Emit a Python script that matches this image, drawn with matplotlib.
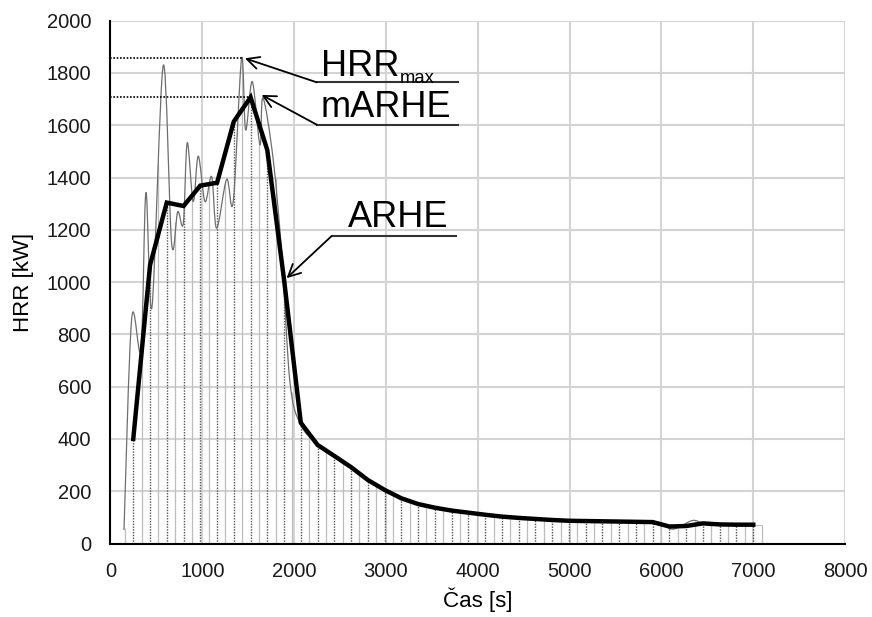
import numpy as np
import matplotlib
matplotlib.use("Agg")
import matplotlib.pyplot as plt
from matplotlib.path import Path
from matplotlib.patches import PathPatch

plt.rcParams['font.family'] = ['Liberation Sans', 'DejaVu Sans']

# HRR curve (thin, smoothed), read at its turning points
hrr_t = [147, 231, 332, 386, 452, 575, 666, 732, 793, 836, 901, 956, 1029, 1102,
         1156, 1265, 1337, 1428, 1472, 1544, 1628, 1660, 1772, 1867, 1954, 2063,
         2250, 2430, 2615, 2800, 2980, 3165, 3345, 3530, 3710, 3895, 4075, 4260,
         4440, 4625, 4810, 4990, 5175, 5355, 5540, 5720, 5905, 6000, 6130, 6340,
         6460, 6640, 6820, 7000]
hrr_v = [52, 860, 745, 1342, 905, 1829, 1148, 1269, 1225, 1533, 1308, 1482, 1308, 1403,
         1206, 1393, 1308, 1856, 1582, 1767, 1525, 1705, 1470, 1100, 620, 460,
         380, 335, 292, 243, 205, 173, 151, 137, 126, 118, 110, 103,
         98, 93, 89, 86, 85, 84, 83, 82, 81, 78, 55, 88,
         76, 73, 72, 72]

# ARHE (thick line) vertices
arhe_t = [248, 431, 613, 796, 978, 1161, 1343, 1526, 1708, 1891, 2073, 2256, 2438,
          2621, 2803, 2986, 3168, 3351, 3533, 3716, 3898, 4081, 4263, 4446, 4628,
          4811, 4993, 5176, 5358, 5541, 5723, 5906, 6088, 6271, 6453, 6636, 6818, 7001]
arhe_v = [400, 1065, 1304, 1291, 1369, 1380, 1614, 1707, 1505, 1008, 462, 377, 335,
          292, 243, 205, 173, 151, 137, 126, 118, 110, 103, 98, 94,
          90, 87, 86, 85, 84, 83, 82, 65, 67, 77, 73, 72, 72]

# grey column edges between the ARHE vertices
bar_t = [158, 340, 523, 705, 887, 1070, 1252, 1435, 1617, 1800, 1982, 2165, 2347,
         2530, 2712, 2895, 3077, 3260, 3442, 3625, 3807, 3990, 4172, 4355, 4537,
         4720, 4902, 5085, 5267, 5450, 5632, 5815, 5997, 6180, 6362, 6545, 6727,
         6910, 7092]
bar_v = [60, 760, 1450, 1230, 1330, 1370, 1380, 1830, 1530, 1400, 580, 420, 355,
         315, 268, 225, 188, 162, 145, 131, 122, 114, 106, 100, 96,
         92, 88, 86, 85, 84, 83, 82, 76, 58, 85, 75, 72, 72, 72]

hrr_max = 1856
hrr_max_t = 1428
marhe = 1707
marhe_t = 1526


def smooth_path(x, y):
    # Catmull-Rom through the points, as cubic Bezier segments
    p = np.column_stack([x, y]).astype(float)
    verts = [p[0]]
    codes = [Path.MOVETO]
    n = len(p)
    for i in range(n - 1):
        p0 = p[i - 1] if i > 0 else p[i]
        p3 = p[i + 2] if i + 2 < n else p[i + 1]
        c1 = p[i] + (p[i + 1] - p0) / 6.0
        c2 = p[i + 1] - (p3 - p[i]) / 6.0
        verts += [c1, c2, p[i + 1]]
        codes += [Path.CURVE4] * 3
    return Path(verts, codes)


fig = plt.figure(figsize=(8.72, 6.17), dpi=100)
ax = fig.add_axes([0.1267, 0.1191, 0.969 - 0.1267, 0.9665 - 0.1191])

ax.set_xlim(0, 8000)
ax.set_ylim(0, 2000)
ax.set_xticks(range(0, 8001, 1000))
ax.set_yticks(range(0, 2001, 200))
ax.grid(True, color='#d4d4d4', lw=1.5)
ax.set_axisbelow(True)
for s in ['top', 'right']:
    ax.spines[s].set_visible(False)
for s in ['left', 'bottom']:
    ax.spines[s].set_linewidth(1.5)
    ax.spines[s].set_color('black')
ax.tick_params(length=0, labelsize=14.5, colors='#1a1a1a')
ax.tick_params(axis='y', pad=14)
ax.tick_params(axis='x', pad=13)

# columns and drop lines
ax.vlines(bar_t, 0, bar_v, color='#bdbdbd', lw=0.9, zorder=2)
ax.hlines(bar_v[-1], arhe_t[-1], bar_t[-1], color='#bdbdbd', lw=0.9, zorder=2)
ax.vlines(arhe_t, 0, arhe_v, color='#555555', lw=1.0, linestyles=(0, (1, 1)), zorder=2)

# HRR thin smoothed line
ax.add_patch(PathPatch(smooth_path(hrr_t, hrr_v), facecolor='none',
                       edgecolor='#6e6e6e', lw=0.9, zorder=3))

# ARHE thick line
ax.plot(arhe_t, arhe_v, color='black', lw=3.2, solid_joinstyle='miter', zorder=4)

# max markers
ax.plot([0, hrr_max_t], [hrr_max, hrr_max], color='black', lw=1.2,
        ls=(0, (1, 1)), zorder=4)
ax.plot([0, marhe_t], [marhe, marhe], color='black', lw=1.2,
        ls=(0, (1, 1)), zorder=4)

# labels with underline and arrow
labels = [
    ('HRR', 2288, 1790, 2248, 3783, 1764, (1464, 1856)),
    ('mARHE', 2288, 1630, 2248, 3783, 1602, (1646, 1716)),
    ('ARHE', 2589, 1212, 2408, 3761, 1176, (1918, 1015)),
]
for txt, tx, ty, x0, x1, yl, tip in labels:
    ax.text(tx, ty, txt, fontsize=26, va='baseline', ha='left', zorder=5)
    ax.plot([x0, x1], [yl, yl], color='#333333', lw=1.5, zorder=5)
    ax.annotate('', xy=tip, xytext=(x0, yl),
                arrowprops=dict(arrowstyle='->', color='black', lw=1.3,
                                mutation_scale=22, shrinkA=0, shrinkB=0),
                zorder=5)
ax.text(3150, 1762, 'max', fontsize=13.3, va='baseline', ha='left', zorder=5)

ax.set_xlabel('Čas [s]', fontsize=16, labelpad=5)
ax.set_ylabel('HRR [kW]', fontsize=16, labelpad=9)

fig.savefig('out.png', dpi=100)
